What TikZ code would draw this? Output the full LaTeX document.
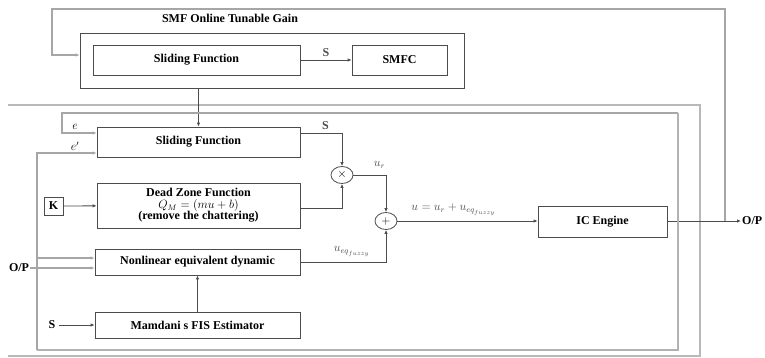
\documentclass[tikz,border=0pt]{standalone}
\usepackage{amsmath}
\usepackage{fontspec}
\setmainfont{Liberation Serif}
\usetikzlibrary{arrows.meta, positioning, shapes.geometric, calc}

\begin{document}
\begin{tikzpicture}[
  x=1pt, y=-1pt,
  font=\fontsize{12}{13}\selectfont\bfseries,
  blk/.style   = {draw=black!70, line width=0.8pt, inner sep=0pt, align=center},
  sumnd/.style = {draw=black!70, line width=0.8pt, ellipse, inner sep=0pt,
                  minimum width=22pt, minimum height=17pt},
  arr/.style   = {-{Latex[length=4pt, width=3.5pt]}, line width=0.8pt, black!70},
  fbarr/.style = {arr, line width=1.1pt, gray!70},
  fbwire/.style = {line width=1.1pt, gray!60},
  frame/.style = {line width=1.4pt, gray!55},
]
\useasboundingbox (0,0) rectangle (765,358);

%% ── SMF online tunable gain ────────────────────────────────────────────────
\node (title) at (230,18) {SMF Online Tunable Gain};
\node[blk, minimum width=384pt, minimum height=55pt] (smf) at (272,60.5) {};
\node[blk, minimum width=207pt, minimum height=30pt] (sf1) at (196.5,60) {Sliding Function};
\node[blk, minimum width=95pt, minimum height=30pt] (smfc) at (399.5,60) {SMFC};
\draw[arr] (sf1) -- node[above] {S} (smfc);

%% ── outer frames ───────────────────────────────────────────────────────────
\draw[frame] (8,105) -- (700,105) -- (700,356) -- (8,356);

%% ── sliding function + dead zone ───────────────────────────────────────────
\node[blk, minimum width=203pt, minimum height=30pt] (sf2) at (198.5,142) {Sliding Function};
\node[blk, minimum width=203pt, minimum height=45pt] (dz) at (198.5,205.5)
  {Dead Zone Function\\[-1.5pt] $Q_{M} = (mu + b)$\\[-1.5pt] (remove the chattering)};
\node[blk, minimum width=19pt, minimum height=18pt] (kbox) at (53.5,206) {K};
\draw[arr] (kbox) -- (dz);
\draw[arr] (sf2.north |- smf.south) -- (sf2.north);

\node[sumnd] (mul) at (342,175) {$\times$};
\node[sumnd] (add) at (386,221) {$+$};

\draw[arr] ([yshift=9pt]sf2.east) -| node[pos=0.3, above] {S} (mul.north);
\draw[arr] ([yshift=-2.5pt]dz.east) -| (mul.south);
\draw[arr] (mul.east) -| node[pos=0.4, above=3pt] {$u_r$} (add.north);

%% ── nonlinear dynamic + Mamdani ────────────────────────────────────────────
\node[blk, minimum width=205pt, minimum height=26pt] (nl) at (197.5,262) {Nonlinear equivalent dynamic};
\node[blk, minimum width=205pt, minimum height=26pt] (fis) at (197.5,325) {Mamdani s FIS Estimator};
\draw[arr] (fis) -- (nl);
\node (sIn) at (52,325) {S};
\draw[arr] (sIn) -- (fis);
\draw[arr] (nl.east) -| node[pos=0.3, above=2pt] {$u_{eq_{fuzzy}}$} (add.south);

%% ── IC engine and output ───────────────────────────────────────────────────
\node[blk, minimum width=129pt, minimum height=31pt] (ice) at (602.5,221.5) {IC Engine};
\draw[arr] (add) -- node[pos=0.4, above=2pt] {$u = u_r + u_{eq_{fuzzy}}$} (ice.west |- add);
\node[anchor=west, inner sep=1pt] (opR) at (741,221) {O/P};
\coordinate (oJ) at (725,221);
\draw[arr] (ice.east |- add) -- (opR.west);

%% ── feedback loops ─────────────────────────────────────────────────────────
\coordinate (loopTop) at (725,9);
\coordinate (loopIn) at (52,55);
\draw[fbarr] (oJ) -- (loopTop) -| (loopIn) -- (loopIn -| smf.west);

\coordinate (eCorner) at (62,113);
\coordinate (eIn) at (62,133);
\coordinate (fbTR) at (678,113);
\coordinate (fbBL) at (37,350);
\coordinate (edIn) at (37,153);
\coordinate (opIn) at (37,258);
\draw[fbarr] (fbTR) -- (eCorner) -- (eIn) -- (eIn -| sf2.west);
\draw[fbwire] (fbTR) |- (fbBL);
\draw[fbarr] (fbBL) -- (edIn) -- (edIn -| sf2.west);
\draw[fbarr] (opIn) -- (opIn -| nl.west);
\node (eLbl) at (75,127) {$e$};
\node (edLbl) at (75,146) {$e'$};

\node[inner sep=1pt] (opL) at (19,268) {O/P};
\draw[fbarr] (opL.east) -- (opL.east -| nl.west);

\end{tikzpicture}
\end{document}
